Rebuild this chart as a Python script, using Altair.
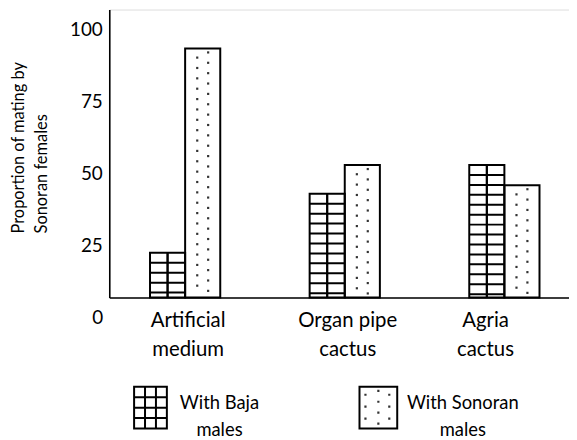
import altair as alt
import pandas as pd

# ---- data ----
categories = ["Artificial medium", "Organ pipe cactus", "Agria cactus"]
series = ["With Baja males", "With Sonoran males"]
baja_values = [22.5, 43, 53]
sonoran_values = [93.5, 53, 46]
y_ticks = [25, 50, 75, 100]
y_domain = [7, 107]
y_title = ["Proportion of mating by", "Sonoran females"]

df = pd.DataFrame({
    "medium": categories * 2,
    "males": [series[0]] * len(categories) + [series[1]] * len(categories),
    "value": baja_values + sonoran_values,
})

FONT = "Lato"
BASE = y_domain[0]
GRID_STEP = 3.45   # spacing of the cross-hatch lines (in axis units)
DOT_STEP = 1.8     # spacing of the dot rows (in axis units)

x_enc = alt.X(
    "medium:N", sort=categories,
    scale=alt.Scale(paddingInner=0.56, paddingOuter=0.22, align=0.58),
    axis=alt.Axis(
        title=None, ticks=False, tickSize=0, domainColor="black", domainWidth=1.6,
        labelFont=FONT, labelFontSize=20.5, labelColor="black", labelAngle=0,
        labelPadding=13, labelLineHeight=29,
        labelExpr="[slice(datum.label, 0, lastindexof(datum.label, ' ')), slice(datum.label, lastindexof(datum.label, ' ') + 1)]",
        labelOffset={"condition": {"test": "datum.label == 'Agria cactus'", "value": -19}, "value": 3},
    ),
)
xo_enc = alt.XOffset("males:N", sort=series, scale=alt.Scale(paddingInner=0, paddingOuter=0))
y_scale = alt.Scale(domain=y_domain, zero=False, nice=False)
y_axis = alt.Axis(
    values=y_ticks, grid=False, ticks=False, tickSize=0, domainColor="black", domainWidth=1.6,
    labelFont=FONT, labelFontSize=19, labelColor="black", labelPadding=7,
    title=y_title, titleFont=FONT, titleFontSize=16.5, titleFontWeight="normal", titleColor="black",
    titleAngle=270, titleAlign="left", titleBaseline="top", titleX=-99, titleY=225,
    titleLineHeight=23,
)


def y_of(field):
    return alt.Y(field, scale=y_scale, axis=y_axis)


base = alt.Chart(df)

bars_fill = base.mark_bar(fill="white", strokeWidth=0).encode(
    x=x_enc, xOffset=xo_enc, y=y_of("value:Q"), y2=alt.datum(BASE)
)

baja = base.transform_filter(alt.datum.males == series[0])

grid_v = [
    baja.mark_rule(color="black", strokeWidth=2, xOffset=off).encode(
        x=x_enc, xOffset=xo_enc, y=y_of("value:Q"), y2=alt.datum(BASE)
    )
    for off in (-5.9, 5.9)
]

grid_h = baja.transform_calculate(
    lv=f"sequence(datum.value - {GRID_STEP}, {BASE + 0.8}, -{GRID_STEP})"
).transform_flatten(["lv"]).mark_tick(
    orient="horizontal", color="black", thickness=2, size=35.4, opacity=1
).encode(x=x_enc, xOffset=xo_enc, y=y_of("lv:Q"))

dots_src = base.transform_filter(alt.datum.males == series[1]).transform_calculate(
    lv=f"sequence(datum.value - 1.4, {BASE + 0.5}, -{DOT_STEP})"
).transform_flatten(["lv"]).transform_calculate(
    par=f"round((datum.value - 1.4 - datum.lv) / {DOT_STEP}) % 2"
)
# a small dot drawn off-centre through the symbol path (size 4 -> 1 unit = 1 px)
dots = [
    dots_src.transform_filter(f"datum.par == {p}").mark_point(
        shape=f"M{off - 1.1},-1.1h2.2v2.2h-2.2Z", size=4, filled=True, color="#333333",
        strokeWidth=0, opacity=1
    ).encode(x=x_enc, xOffset=xo_enc, y=y_of("lv:Q"))
    for p, off in ((0, 5.5), (1, -5.5))
]

bars_outline = base.mark_bar(fillOpacity=0, stroke="black", strokeWidth=2).encode(
    x=x_enc, xOffset=xo_enc, y=y_of("value:Q"), y2=alt.datum(BASE)
)

# the "0" written below the y axis, at the scale position of zero
zero_label = alt.Chart(alt.Data(values=[{"v": 0}])).mark_text(
    align="right", baseline="middle", font=FONT, fontSize=19, color="black"
).encode(x=alt.value(-6), y=y_of("v:Q"), text=alt.Text("v:Q"))

# ---- legend (pattern swatches are drawn as custom symbol paths, 1 unit = 1 px) ----
one = alt.Data(values=[{"k": 1}])
grid_path = ("M-16.5,-21H16.5V21H-16.5Z M-5.5,-21V21 M5.5,-21V21 "
             "M-16.5,-10.5H16.5 M-16.5,0H16.5 M-16.5,10.5H16.5")
box_path = "M-19,-21H19V21H-19Z"
dot_path = " ".join(
    f"M{x - 1.1},{y - 1.1}h2.2v2.2h-2.2Z" for x, y in [
        (-13, -13), (-13, -1), (-13, 11),
        (0, -17), (0, -6), (0, 5), (0, 16),
        (11, -13), (11, -1), (11, 11),
    ]
)

leg_baja = alt.Chart(one).mark_point(
    shape=grid_path, size=4, filled=False, color="black", strokeWidth=2, opacity=1
).encode(x=alt.value(41.5), y=alt.value(401))
leg_baja_txt = alt.Chart(one).mark_text(
    align="center", baseline="alphabetic", font=FONT, fontSize=18.5, color="black", lineHeight=28
).encode(x=alt.value(111), y=alt.value(402), text=alt.value(["With Baja", "males"]))

leg_son_box = alt.Chart(one).mark_point(
    shape=box_path, size=4, filled=False, color="black", strokeWidth=2, opacity=1
).encode(x=alt.value(271), y=alt.value(401))
leg_son_dots = alt.Chart(one).mark_point(
    shape=dot_path, size=4, filled=True, color="#333333", strokeWidth=0, opacity=1
).encode(x=alt.value(271), y=alt.value(401))
leg_son_txt = alt.Chart(one).mark_text(
    align="center", baseline="alphabetic", font=FONT, fontSize=18.5, color="black", lineHeight=28
).encode(x=alt.value(356), y=alt.value(402), text=alt.value(["With Sonoran", "males"]))

chart = alt.layer(
    bars_fill, *grid_v, grid_h, *dots, bars_outline, zero_label,
    leg_baja, leg_baja_txt, leg_son_box, leg_son_dots, leg_son_txt,
).properties(
    width=463, height=290,
    autosize=alt.AutoSizeParams(type="none"),
    padding={"left": 102, "top": 0, "right": 0, "bottom": 142},
).configure_view(strokeWidth=0).configure(font=FONT)

chart.save("out.html", embed_options={"renderer": "svg", "actions": False})
